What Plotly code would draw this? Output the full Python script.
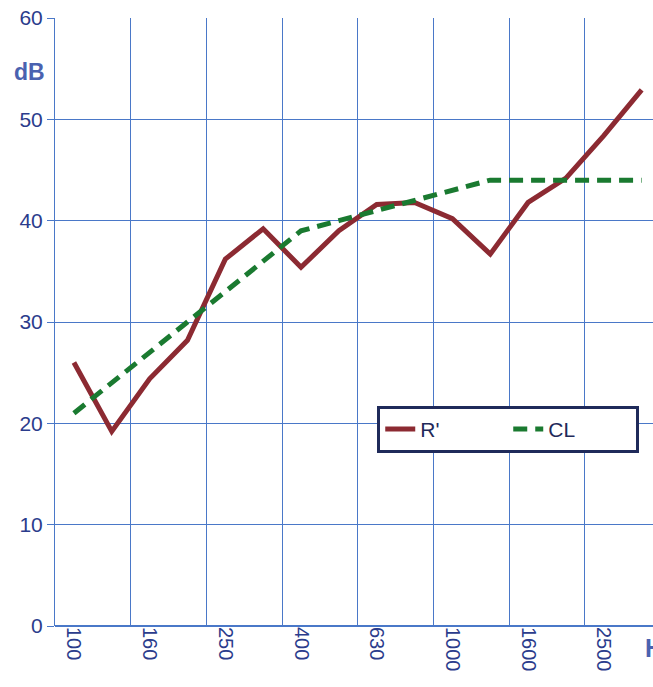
import plotly.graph_objects as go

freqs = ["100", "125", "160", "200", "250", "315", "400", "500", "630", "800",
         "1000", "1250", "1600", "2000", "2500", "3150"]
r_prime = [26.0, 19.2, 24.4, 28.2, 36.2, 39.2, 35.4, 39.0, 41.6, 41.8,
           40.2, 36.7, 41.8, 44.2, 48.4, 52.9]
cl = [21, 24, 27, 30, 33, 36, 39, 40, 41, 42, 43, 44, 44, 44, 44, 44]
x_idx = list(range(len(freqs)))
tick_idx = x_idx[::2]
tick_text = freqs[::2]
y_ticks = [0, 10, 20, 30, 40, 50, 60]

grid_col = "#4a78c8"
text_col = "#2b3c8c"
font_family = "Liberation Sans, Arial, sans-serif"

fig = go.Figure()
fig.add_trace(go.Scatter(x=x_idx, y=r_prime, mode="lines", name="R'",
                         line=dict(color="#8c2a32", width=5)))
fig.add_trace(go.Scatter(x=x_idx, y=cl, mode="lines", name="CL",
                         line=dict(color="#1a7a30", width=5, dash="14px,8px")))

fig.update_layout(
    width=653, height=687,
    margin=dict(l=55, r=0, t=18, b=61, autoexpand=False),
    paper_bgcolor="white", plot_bgcolor="white",
    font=dict(family=font_family, color=text_col, size=20),
    showlegend=True,
    legend=dict(orientation="h", x=0.977, y=0.362, xanchor="right", yanchor="top",
                bordercolor="#1f2a5a", borderwidth=3, bgcolor="white",
                font=dict(size=21, color="#1f2a5a"), entrywidth=83,
                itemwidth=30),
    annotations=[
        dict(text="<b>dB</b>", xref="paper", yref="paper", x=-0.042, y=0.911,
             xanchor="center", yanchor="middle",
             showarrow=False, font=dict(size=23, color="#4a62b0")),
        dict(text="<b>Hz</b>", xref="paper", yref="paper", x=0.983, y=-0.01,
             xanchor="left", yanchor="top", showarrow=False,
             font=dict(size=25, color="#4a62b0")),
    ],
)
fig.update_xaxes(
    range=[-0.5, 15.3], tickmode="array", tickvals=tick_idx, ticktext=tick_text,
    tickangle=90, showgrid=False, zeroline=False, showline=False, ticks="",
    automargin=False, ticklabeloverflow="allow",
    tickfont=dict(size=20, color=text_col),
    minor=dict(tickmode="linear", tick0=1.5, dtick=2, showgrid=True,
               gridcolor=grid_col, gridwidth=1),
)
fig.update_yaxes(
    range=[0, 60], tickmode="array", tickvals=y_ticks, showgrid=True,
    gridcolor=grid_col, gridwidth=1, zeroline=True, zerolinecolor=grid_col,
    zerolinewidth=1.5, showline=True, linecolor=grid_col, linewidth=1,
    ticks="outside", ticklen=7, tickcolor=grid_col, automargin=False,
    ticklabeloverflow="allow", tickfont=dict(size=21, color=text_col),
)

fig.write_html(
    "out.html",
    config={"displayModeBar": False},
    post_script="document.body.style.margin='0';"
                "document.body.style.overflow='hidden';",
)
